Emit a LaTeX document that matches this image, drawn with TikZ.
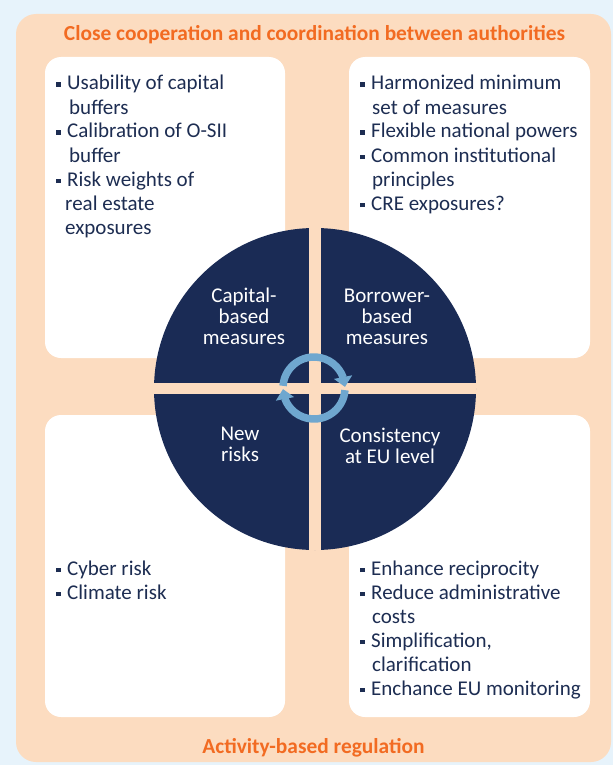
\documentclass[tikz,border=0pt]{standalone}
\usepackage{fontspec}
\setmainfont{Carlito}
\usetikzlibrary{arrows.meta,bending}
\definecolor{bgblue}{HTML}{E7F3FB}
\definecolor{peach}{HTML}{FCDCC0}
\definecolor{orangetitle}{HTML}{F26B22}
\definecolor{navycirc}{HTML}{1A2B55}
\definecolor{navytext}{HTML}{1D2D52}
\definecolor{cycblue}{HTML}{6FA7CF}
\newcommand\bulsq{\makebox[11pt][l]{\rule[3pt]{4.5pt}{4.5pt}}}
\tikzset{
  whitebox/.style={fill=white, rounded corners=16pt},
  txt/.style={anchor=base west, inner sep=0pt, font=\fontsize{21}{24}\selectfont, text=navytext},
  ctxt/.style={anchor=base, inner sep=0pt, font=\fontsize{21}{21}\selectfont, text=white},
  ttl/.style={anchor=base, inner sep=0pt, font=\fontsize{21.4}{24}\selectfont\bfseries, text=orangetitle},
  cyc/.style={draw=cycblue, line width=7.5pt, -{Triangle[width=18pt,length=10pt,flex]}},
}
\begin{document}
\begin{tikzpicture}[x=1pt,y=-1pt]
\useasboundingbox (0,0) rectangle (613,765);
\fill[bgblue] (0,0) rectangle (613,765);
\fill[peach, rounded corners=20pt] (16,14) rectangle (611,762);
% white boxes
\fill[whitebox] (45,57) rectangle (285,358);
\fill[whitebox] (349,57) rectangle (590,358);
\fill[whitebox] (45,415) rectangle (285,717);
\fill[whitebox] (349,415) rectangle (590,717);
% titles
\node[ttl] (ttop) at (314.5,41) {Close cooperation and coordination between authorities};
\node[ttl] (tbot) at (313.5,753) {Activity-based regulation};
% top-left
\node[txt] (tl1) at (56,90) {\bulsq Usability of capital};
\node[txt] (tl2) at (69,114) {buffers};
\node[txt] (tl3) at (56,138) {\bulsq Calibration of O-SII};
\node[txt] (tl4) at (69,162) {buffer};
\node[txt] (tl5) at (56,186) {\bulsq Risk weights of};
\node[txt] (tl6) at (65,210) {real estate};
\node[txt] (tl7) at (65,234) {exposures};
% top-right
\node[txt] (tr1) at (360,90) {\bulsq Harmonized minimum};
\node[txt] (tr2) at (372,114) {set of measures};
\node[txt] (tr3) at (360,138) {\bulsq Flexible national powers};
\node[txt] (tr4) at (360,162) {\bulsq Common institutional};
\node[txt] (tr5) at (372,186) {principles};
\node[txt] (tr6) at (360,210) {\bulsq CRE exposures?};
% bottom-left
\node[txt] (bl1) at (56,575) {\bulsq Cyber risk};
\node[txt] (bl2) at (56,599) {\bulsq Climate risk};
% bottom-right
\node[txt] (br1) at (360,575) {\bulsq Enhance reciprocity};
\node[txt] (br2) at (360,599) {\bulsq Reduce administrative};
\node[txt] (br3) at (372,623) {costs};
\node[txt] (br4) at (360,647) {\bulsq Simplification,};
\node[txt] (br5) at (372,671) {clarification};
\node[txt] (br6) at (360,695) {\bulsq Enchance EU monitoring};
% circle
\coordinate (c) at (315,389);
\fill[navycirc] (c) circle[radius=161];
\begin{scope}
  \clip (c) circle[radius=161.5];
  \fill[peach] (309,220) rectangle (321,560);
  \fill[peach] (145,383) rectangle (485,394);
\end{scope}
% circle texts (base anchor = last line)
\node[ctxt, align=center] (cap) at (244,344) {Capital-\\based\\measures};
\node[ctxt, align=center] (bor) at (387,344) {Borrower-\\based\\measures};
\node[ctxt, align=center] (new) at (240,461) {New\\risks};
\node[ctxt, align=center] (con) at (390,463) {Consistency\\at EU level};
% cycle arrows (y axis points down, so angles run clockwise on screen)
\coordinate (cc) at (314,388);
\draw[cyc] ([shift={(-176:31)}]cc) arc[start angle=-176, end angle=-2, radius=31];
\draw[cyc] ([shift={(4:31)}]cc) arc[start angle=4, end angle=178, radius=31];
\end{tikzpicture}
\end{document}
